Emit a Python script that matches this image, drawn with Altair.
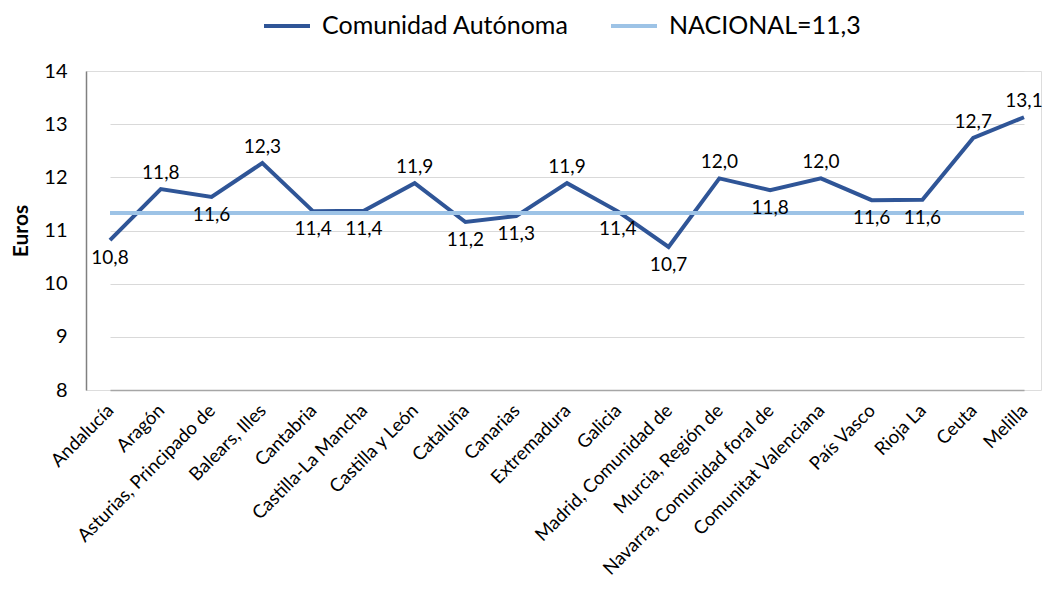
import altair as alt
import pandas as pd

regions = ["Andalucía", "Aragón", "Asturias, Principado de", "Balears, Illes", "Cantabria",
           "Castilla-La Mancha", "Castilla y León", "Cataluña", "Canarias", "Extremadura",
           "Galicia", "Madrid, Comunidad de", "Murcia, Región de", "Navarra, Comunidad foral de",
           "Comunitat Valenciana", "País Vasco", "Rioja  La", "Ceuta", "Melilla"]
values = [10.82, 11.78, 11.63, 12.27, 11.36, 11.37, 11.89, 11.16, 11.27, 11.89,
          11.36, 10.69, 11.98, 11.76, 11.98, 11.57, 11.58, 12.74, 13.13]
national = 11.33
series_names = ["Comunidad Autónoma", "NACIONAL=11,3"]
label_pos = ["below", "above", "below", "above", "below", "below", "above", "below", "below", "above",
             "below", "below", "above", "below", "above", "below", "below", "above", "above"]

rows = []
for r, v, p in zip(regions, values, label_pos):
    rows.append({"region": r, "value": v, "series": series_names[0], "pos": p})
for r in regions:
    rows.append({"region": r, "value": national, "series": series_names[1], "pos": "none"})
df = pd.DataFrame(rows)

FONT = "Lato"
W, H = 955, 319

x = alt.X("region:N", sort=regions, title=None,
          scale=alt.Scale(type="point", range=[24, 938], padding=0),
          axis=alt.Axis(labelAngle=315, labelAlign="right", labelBaseline="middle",
                        labelFontSize=18.5, labelFont=FONT, labelColor="#000000",
                        ticks=False, domainColor="#a6a6a6", domainWidth=1.5,
                        labelPadding=17, grid=False, labelOverlap=False, labelLimit=400))
y = alt.Y("value:Q", title="Euros",
          scale=alt.Scale(domain=[8, 14], nice=False, zero=False),
          axis=alt.Axis(values=[8, 9, 10, 11, 12, 13, 14], labelFontSize=20, labelFont=FONT,
                        labelColor="#000000", ticks=False, domainColor="#808080", domainWidth=1.5,
                        gridColor="#d9d9d9", gridWidth=1.2, labelPadding=19,
                        titleFont=FONT, titleFontSize=21, titleFontWeight="bold",
                        titleColor="#000000", titlePadding=12))

color = alt.Color("series:N", sort=series_names,
                  scale=alt.Scale(domain=series_names, range=["#2F5597", "#9DC3E6"]),
                  legend=alt.Legend(title=None, orient="none", legendX=176, legendY=-70,
                                    direction="horizontal", symbolType="stroke",
                                    symbolSize=2116, symbolStrokeWidth=4,
                                    labelFontSize=25, labelFont=FONT, labelColor="#000000",
                                    columnPadding=34, labelOffset=10, labelLimit=600))

lines = alt.Chart(df).mark_line(strokeWidth=4).encode(x=x, y=y, color=color,
                                                       detail="series:N")

base_txt = alt.Chart(df).transform_filter(
    alt.datum.series == series_names[0]
).transform_calculate(
    lbl="replace(format(datum.value, '.1f'), '.', ',')"
)
above = base_txt.transform_filter(alt.datum.pos == "above").mark_text(
    dy=-16, fontSize=19, font=FONT, color="#000000", baseline="middle"
).encode(x=alt.X("region:N", sort=regions), y="value:Q", text="lbl:N")
below = base_txt.transform_filter(alt.datum.pos == "below").mark_text(
    dy=18, fontSize=19, font=FONT, color="#000000", baseline="middle"
).encode(x=alt.X("region:N", sort=regions), y="value:Q", text="lbl:N")

chart = alt.layer(lines, above, below).properties(
    width=W, height=H,
    autosize=alt.AutoSizeParams(type="none"),
    padding={"left": 78, "top": 63, "right": 2, "bottom": 194},
).configure_view(stroke=None).configure(background="white")

chart.save("out.html", embed_options={"renderer": "svg", "actions": False})
